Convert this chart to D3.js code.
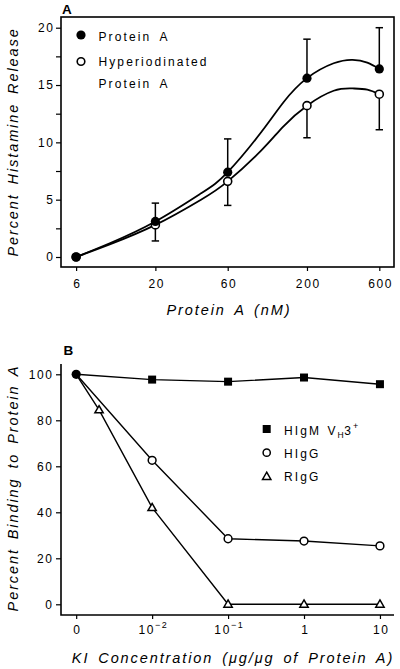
<!DOCTYPE html>
<html><head><meta charset="utf-8">
<script src="https://cdn.jsdelivr.net/npm/d3@7"></script>
<style>
body{margin:0;background:#fff}
svg{display:block}
text{font-family:"Liberation Sans",Arial,Helvetica,sans-serif;fill:#000}
.tick text{font-size:12px;letter-spacing:1.6px}
.ttl{font-size:14.5px;font-style:italic;letter-spacing:1.9px;word-spacing:3px}
.leg{font-size:12px;letter-spacing:2.1px;word-spacing:3.5px}
</style>
</head><body>
<svg id="chart" width="400" height="669"></svg>
<script>
// ---------- Panel A data ----------
const doseA = [6, 20, 60, 200, 600];
const proteinA = [0, 3.1, 7.4, 15.6, 16.4];
const proteinAErrUp = [0, 1.6, 2.9, 3.4, 3.6];
const hyperA = [0, 2.8, 6.6, 13.2, 14.2];
const hyperAErrDown = [0, 1.4, 2.1, 2.8, 3.1];
// fitted curves
const fitDose = [6, 10, 20, 40, 60, 100, 140, 200, 300, 400, 500, 600];
const fitProteinA = [0, 1.2, 3.1, 5.55, 7.4, 10.9, 13.5, 15.6, 16.9, 17.2, 16.95, 16.4];
const fitHyperA = [0, 1.1, 2.8, 5.0, 6.6, 9.3, 11.4, 13.2, 14.5, 14.7, 14.6, 14.2];
const yTicksA = [0, 5, 10, 15, 20];
const yMinorTicksA = [2.5, 7.5, 12.5, 17.5];
const xTicksA = [6, 20, 60, 200, 600];

// ---------- Panel B data ----------
const kiConc = [0, 0.01, 0.1, 1, 10];
const higm = [100, 97.7, 96.8, 98.6, 95.7];
const higg = [100, 62.6, 28.5, 27.5, 25.4];
const riggConc = [0, 0.002, 0.01, 0.1, 1, 10];
const rigg = [100, 84.5, 42, 0, 0, 0];
const yTicksB = [0, 20, 40, 60, 80, 100];
const xTicksB = [0, 0.01, 0.1, 1, 10];
const xTickLabelsB = [["0", null], ["10", "\u22122"], ["10", "\u22121"], ["1", null], ["10", null]];

const svg = d3.select("#chart");
svg.append("rect").attr("width", 400).attr("height", 669).attr("fill", "#fff");

// ================= PANEL A =================
const A = {left: 61, right: 394, top: 17, bottom: 267};
const xA = d3.scaleLog().domain([4.77, 750]).range([A.left, A.right]);
const yA = d3.scaleLinear().domain([0, 20]).range([257, 27.7]);
const gA = svg.append("g");

gA.append("rect").attr("x", A.left).attr("y", A.top)
  .attr("width", A.right - A.left).attr("height", A.bottom - A.top)
  .attr("fill", "none").attr("stroke", "#000").attr("stroke-width", 1.6);

const axYA = gA.append("g").attr("transform", `translate(${A.left},0)`)
  .call(d3.axisLeft(yA).tickValues(yTicksA).tickSize(5).tickPadding(3).tickFormat(d3.format("d")));
axYA.select(".domain").remove();
axYA.selectAll("line").attr("stroke-width", 1.2);
gA.append("g").attr("transform", `translate(${A.left},0)`)
  .call(d3.axisLeft(yA).tickValues(yMinorTicksA).tickSize(5).tickFormat(""))
  .call(g => g.select(".domain").remove())
  .selectAll("line").attr("stroke-width", 1.2);

const axXA = gA.append("g").attr("transform", `translate(0,${A.bottom})`)
  .call(d3.axisBottom(xA).tickValues(xTicksA).tickSize(4).tickPadding(8).tickFormat(d3.format("d")));
axXA.select(".domain").remove();
axXA.selectAll("line").attr("stroke-width", 1.2);
axXA.selectAll("text").attr("dx", "0.8px");
axYA.selectAll("text").attr("dx", "1.6px");

// fitted curves
const lineA = d3.line().x(d => xA(d[0])).y(d => yA(d[1])).curve(d3.curveNatural);
[fitProteinA, fitHyperA].forEach(s => {
  gA.append("path").datum(fitDose.map((d, i) => [d, s[i]]))
    .attr("d", lineA).attr("fill", "none").attr("stroke", "#000").attr("stroke-width", 1.8);
});

// error bars
function errBar(g, x, y0, y1) {
  g.append("line").attr("x1", x).attr("x2", x).attr("y1", y0).attr("y2", y1)
    .attr("stroke", "#000").attr("stroke-width", 1.5);
  g.append("line").attr("x1", x - 3.7).attr("x2", x + 3.7).attr("y1", y1).attr("y2", y1)
    .attr("stroke", "#000").attr("stroke-width", 1.5);
}
doseA.forEach((d, i) => {
  if (proteinAErrUp[i] > 0) errBar(gA, xA(d), yA(proteinA[i]), yA(proteinA[i] + proteinAErrUp[i]));
  if (hyperAErrDown[i] > 0) errBar(gA, xA(d), yA(hyperA[i]), yA(hyperA[i] - hyperAErrDown[i]));
});

// markers
gA.selectAll(".oA").data(doseA).enter().append("circle")
  .attr("cx", d => xA(d)).attr("cy", (d, i) => yA(hyperA[i])).attr("r", 4)
  .attr("fill", "#fff").attr("stroke", "#000").attr("stroke-width", 1.6);
gA.selectAll(".fA").data(doseA).enter().append("circle")
  .attr("cx", d => xA(d)).attr("cy", (d, i) => yA(proteinA[i])).attr("r", 4.6)
  .attr("fill", "#000");

// legend A
gA.append("circle").attr("cx", 81).attr("cy", 35).attr("r", 4.6).attr("fill", "#000");
gA.append("circle").attr("cx", 81).attr("cy", 61.5).attr("r", 3.8)
  .attr("fill", "#fff").attr("stroke", "#000").attr("stroke-width", 1.6);
gA.append("text").attr("class", "leg").attr("x", 98.5).attr("y", 40.5).text("Protein A");
gA.append("text").attr("class", "leg").attr("x", 98.5).attr("y", 66.3).text("Hyperiodinated");
gA.append("text").attr("class", "leg").attr("x", 98.5).attr("y", 87.5).text("Protein A");

// titles A
gA.append("text").attr("x", 62).attr("y", 13.5).style("font-weight", "bold").style("font-size", "13.5px").text("A");
gA.append("text").attr("class", "ttl").attr("text-anchor", "middle")
  .attr("transform", "translate(18,142) rotate(-90)").text("Percent Histamine Release");
gA.append("text").attr("class", "ttl").attr("text-anchor", "middle")
  .attr("x", 229).attr("y", 314.5).text("Protein A (nM)");

// ================= PANEL B =================
const B = {left: 61, right: 394, top: 364, bottom: 615};
const pos = v => v === 0 ? -3 : Math.log10(v);
const xBl = d3.scaleLinear().domain([-3.2, 1.185]).range([B.left, B.right]);
const xB = v => xBl(pos(v));
const yB = d3.scaleLinear().domain([0, 100]).range([604.3, 374.3]);
const gB = svg.append("g");

gB.append("path").attr("d", `M${B.left},${B.top}V${B.bottom}H${B.right}`)
  .attr("fill", "none").attr("stroke", "#000").attr("stroke-width", 1.6);

const axYB = gB.append("g").attr("transform", `translate(${B.left},0)`)
  .call(d3.axisLeft(yB).tickValues(yTicksB).tickSize(5).tickPadding(4).tickFormat(d3.format("d")));
axYB.select(".domain").remove();
axYB.selectAll("line").attr("stroke-width", 1.2);
axYB.selectAll("text").attr("dx", "1.6px");

const axXB = gB.append("g").attr("transform", `translate(0,${B.bottom})`)
  .call(d3.axisBottom(xBl).tickValues(xTicksB.map(pos)).tickSize(4).tickPadding(8).tickFormat(""));
axXB.select(".domain").remove();
axXB.selectAll("line").attr("stroke-width", 1.2);
axXB.selectAll(".tick").each(function(d, i) {
  const t = d3.select(this).select("text").attr("y", 19).attr("dy", null).attr("dx", "0.8px");
  const lab = xTickLabelsB[i];
  t.append("tspan").text(lab[0]);
  if (lab[1]) t.append("tspan").attr("dy", -6).style("font-size", "9px").text(lab[1]);
});

// lines B
const lineB = d3.line().x(d => xB(d[0])).y(d => yB(d[1]));
[[kiConc, higm], [kiConc, higg], [riggConc, rigg]].forEach(([xs, ys]) => {
  gB.append("path").datum(xs.map((x, i) => [x, ys[i]]))
    .attr("d", lineB).attr("fill", "none").attr("stroke", "#000").attr("stroke-width", 1.4);
});

// markers B
const tri = d3.symbol().type(d3.symbolTriangle).size(30);
gB.selectAll(".tri").data(riggConc.slice(1)).enter().append("path")
  .attr("d", tri).attr("transform", (d, i) => `translate(${xB(d)},${yB(rigg[i + 1]) + 0.5})`)
  .attr("fill", "#fff").attr("stroke", "#000").attr("stroke-width", 1.5);
gB.selectAll(".cir").data(kiConc.slice(1)).enter().append("circle")
  .attr("cx", d => xB(d)).attr("cy", (d, i) => yB(higg[i + 1])).attr("r", 3.9)
  .attr("fill", "#fff").attr("stroke", "#000").attr("stroke-width", 1.5);
gB.selectAll(".sq").data(kiConc.slice(1)).enter().append("rect")
  .attr("x", d => xB(d) - 4).attr("y", (d, i) => yB(higm[i + 1]) - 4)
  .attr("width", 8).attr("height", 8).attr("fill", "#000");
gB.append("circle").attr("cx", xB(0)).attr("cy", yB(100)).attr("r", 4.6).attr("fill", "#000");

// legend B
gB.append("rect").attr("x", 262.7).attr("y", 425).attr("width", 8).attr("height", 8).attr("fill", "#000");
gB.append("circle").attr("cx", 266.7).attr("cy", 452.7).attr("r", 3.6)
  .attr("fill", "#fff").attr("stroke", "#000").attr("stroke-width", 1.5);
gB.append("path").attr("d", tri).attr("transform", "translate(266.7,477)")
  .attr("fill", "#fff").attr("stroke", "#000").attr("stroke-width", 1.5);
const l1 = gB.append("text").attr("class", "leg").attr("x", 284).attr("y", 434.5);
l1.append("tspan").text("HIgM");
l1.append("tspan").attr("x", 327.5).text("V");
l1.append("tspan").attr("dy", 3).style("font-size", "8.5px").style("letter-spacing", "0.5px").text("H");
l1.append("tspan").attr("dy", -3).text("3");
l1.append("tspan").attr("dy", -6).style("font-size", "9px").text("+");
gB.append("text").attr("class", "leg").attr("x", 284).attr("y", 457.8).text("HIgG");
gB.append("text").attr("class", "leg").attr("x", 284).attr("y", 481).text("RIgG");

// titles B
gB.append("text").attr("x", 63.5).attr("y", 355).style("font-weight", "bold").style("font-size", "13.5px").text("B");
gB.append("text").attr("class", "ttl").attr("text-anchor", "middle")
  .attr("transform", "translate(18,488) rotate(-90)").text("Percent Binding to Protein A");
gB.append("text").attr("class", "ttl").attr("text-anchor", "middle")
  .attr("x", 233).attr("y", 662.5).text("KI Concentration (\u03BCg/\u03BCg of Protein A)");
</script>
</body></html>
